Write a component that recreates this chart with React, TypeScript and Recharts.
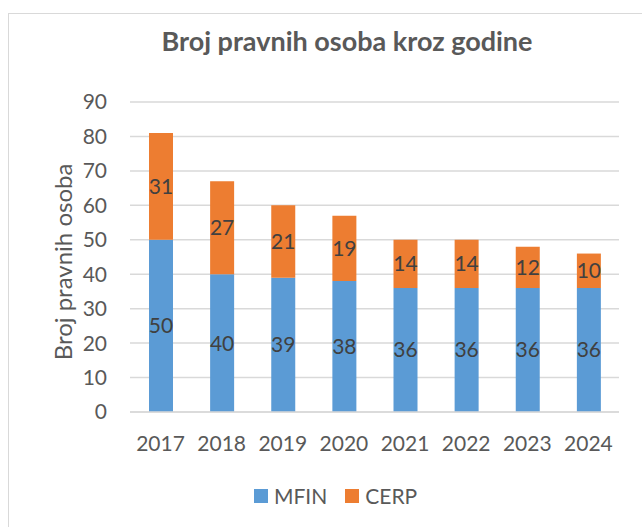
import { BarChart, Bar, XAxis, YAxis, CartesianGrid, LabelList } from "recharts";

const years = ["2017", "2018", "2019", "2020", "2021", "2022", "2023", "2024"];
const mfin = [50, 40, 39, 38, 36, 36, 36, 36];
const cerp = [31, 27, 21, 19, 14, 14, 12, 10];
const yTicks = [0, 10, 20, 30, 40, 50, 60, 70, 80, 90];

const data = years.map((year, i) => ({ year, MFIN: mfin[i], CERP: cerp[i] }));

const FONT = "Lato, 'Open Sans', sans-serif";
const TEXT = "#595959";
const BLUE = "#5B9BD5";
const ORANGE = "#ED7D31";

function LegendBox() {
  const items = [
    { name: "MFIN", color: BLUE },
    { name: "CERP", color: ORANGE },
  ];
  return (
    <div
      style={{
        position: "absolute",
        left: 254,
        top: 482,
        display: "flex",
        fontFamily: FONT,
        fontSize: 21,
        color: TEXT,
        lineHeight: "28px",
      }}
    >
      {items.map((it) => (
        <div key={it.name} style={{ display: "flex", alignItems: "center", marginRight: 18 }}>
          <span style={{ width: 14, height: 14, background: it.color, display: "inline-block", marginRight: 6 }} />
          <span>{it.name}</span>
        </div>
      ))}
    </div>
  );
}

export default function App() {
  return (
    <div style={{ position: "fixed", top: 0, left: 0, width: 642, height: 527, overflow: "hidden", background: "#fff" }}>
      <div
        style={{
          position: "absolute",
          left: 8,
          top: 13,
          width: 700,
          height: 600,
          border: "1px solid #d9d9d9",
        }}
      />
      <div
        style={{
          position: "absolute",
          left: 0,
          top: 24,
          width: 694,
          textAlign: "center",
          fontFamily: FONT,
          fontWeight: 700,
          fontSize: 27,
          color: TEXT,
        }}
      >
        Broj pravnih osoba kroz godine
      </div>
      <BarChart
        width={642}
        height={527}
        data={data}
        margin={{ top: 102, right: 23, bottom: 85, left: 40 }}
        style={{ position: "absolute", left: 0, top: 0 }}
      >
        <CartesianGrid vertical={false} stroke="#d9d9d9" strokeWidth={1.5} />
        <XAxis
          dataKey="year"
          height={30}
          tickLine={false}
          axisLine={{ stroke: "#d9d9d9", strokeWidth: 1.5 }}
          tickSize={0}
          tickMargin={24}
          tick={{ fontSize: 21, fill: TEXT, fontFamily: FONT }}
          interval={0}
        />
        <YAxis
          width={90}
          domain={[0, 90]}
          ticks={yTicks}
          interval={0}
          tickLine={false}
          axisLine={false}
          tickSize={0}
          tickMargin={23}
          tick={{ fontSize: 21, fill: TEXT, fontFamily: FONT }}
          label={{
            content: () => (
              <text
                x={62}
                y={262}
                transform="rotate(-90 62 262)"
                textAnchor="middle"
                dominantBaseline="central"
                fontSize={24}
                fill={TEXT}
                fontFamily={FONT}
              >
                Broj pravnih osoba
              </text>
            ),
          }}
        />
        <Bar dataKey="MFIN" stackId="a" fill={BLUE} barSize={24} isAnimationActive={false}>
          <LabelList dataKey="MFIN" position="center" fill="#404040" fontSize={21} fontFamily={FONT} />
        </Bar>
        <Bar dataKey="CERP" stackId="a" fill={ORANGE} barSize={24} isAnimationActive={false}>
          <LabelList dataKey="CERP" position="center" fill="#404040" fontSize={21} fontFamily={FONT} />
        </Bar>
      </BarChart>
      <LegendBox />
    </div>
  );
}
